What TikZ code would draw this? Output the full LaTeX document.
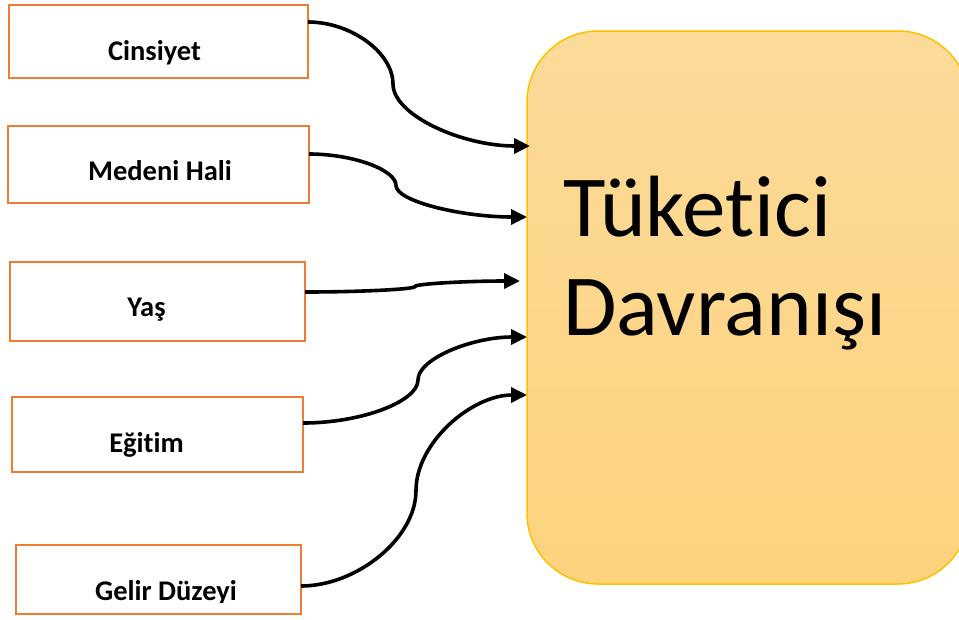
\documentclass[tikz,border=0pt]{standalone}
\usepackage{fontspec}
\setmainfont[RawFeature={-liga;-dlig;-clig;-calt}]{Carlito}
\usetikzlibrary{arrows.meta}
\definecolor{boxorange}{HTML}{ED7D31}
\definecolor{gold}{HTML}{FFC000}
\definecolor{filltop}{HTML}{FCDA99}
\definecolor{fillbot}{HTML}{FDD37E}
\tikzset{
  factorbox/.style={draw=boxorange, line width=2pt, fill=white, inner sep=0pt, outer sep=0pt},
  factorlabel/.style={font=\fontsize{28.5}{32}\selectfont\bfseries, inner sep=0pt, anchor=base},
  conn/.style={line width=3.6pt, -{Triangle[length=16pt,width=15pt]}},
  bigtext/.style={font=\fontsize{87}{99}\selectfont, inner sep=0pt, anchor=base west}
}
\begin{document}
\begin{tikzpicture}[x=1pt,y=-1pt]
\useasboundingbox (0,0) rectangle (959,619);
\clip (0,0) rectangle (959,619);

% big rounded box
\node[draw=gold, line width=1.5pt, rounded corners=71pt, top color=filltop, bottom color=fillbot,
      minimum width=442pt, minimum height=553pt, inner sep=0pt, outer sep=0pt] (big) at (748,307.5) {};
\node[bigtext] (t1) at (563,236) {Tüket\kern0pt ici};
\node[bigtext] (t2) at (563,335) {Davranışı};

% factor boxes
\node[factorbox, minimum width=299pt, minimum height=73pt] (b1) at (158.5,41.5) {};
\node[factorbox, minimum width=301pt, minimum height=77pt] (b2) at (158.5,164.5) {};
\node[factorbox, minimum width=295pt, minimum height=79pt] (b3) at (157.5,301.5) {};
\node[factorbox, minimum width=291pt, minimum height=75pt] (b4) at (157.5,434.5) {};
\node[factorbox, minimum width=285pt, minimum height=69pt] (b5) at (158.5,579.5) {};

\node[factorlabel] (l1) at (154.5,60) {Cinsiyet};
\node[factorlabel] (l2) at (160,180) {Medeni Hali};
\node[factorlabel] (l3) at (146.5,316) {Yaş};
\node[factorlabel] (l4) at (146.5,452) {Eğit\kern0pt im};
\begin{scope}
\clip (16,545) rectangle (301,602);
\node[factorlabel] (l5) at (166,600) {Gelir Düzeyi};
\end{scope}

% connector endpoints
\coordinate (e1) at (530,146);
\coordinate (e2) at (527,217);
\coordinate (e3) at (520,281);
\coordinate (e4) at (527,337);
\coordinate (e5) at (527,395);

\draw[conn] (b1.east |- 0,22) .. controls (351.5,22) and (393,53) .. (393,84)
   .. controls (393,115) and (461.5,146) .. (e1);
\draw[conn] (b2.east |- 0,154) .. controls (353,154) and (396,169.75) .. (396,185.5)
   .. controls (396,201.25) and (461.5,217) .. (e2);
\draw[conn] (b3.east |- 0,292) .. controls (360,292) and (415,289.25) .. (415,286.5)
   .. controls (415,283.75) and (467.5,281) .. (e3);
\draw[conn] (b4.east |- 0,423) .. controls (361.5,423) and (418,401.5) .. (418,380)
   .. controls (418,358.5) and (472.5,337) .. (e4);
\draw[conn] (b5.east |- 0,586) .. controls (357,586) and (416,538.25) .. (416,490.5)
   .. controls (416,442.75) and (471.5,395) .. (e5);
\end{tikzpicture}
\end{document}
